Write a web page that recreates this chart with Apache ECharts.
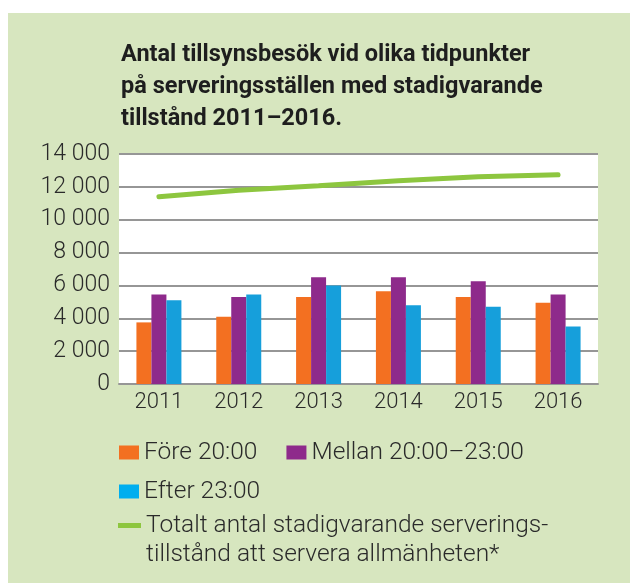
<!DOCTYPE html>
<html>
<head>
<meta charset="utf-8">
<script src="https://cdn.jsdelivr.net/npm/echarts@6/dist/echarts.min.js"></script>
<style>
  html, body { margin: 0; padding: 0; background: #fff; }
  #wrap { position: relative; width: 630px; height: 583px; }
  #panel { position: absolute; left: 8px; top: 13px; right: 0; bottom: 0; background: #d7e6bf; }
  #chart { position: absolute; left: 0; top: 0; width: 630px; height: 583px; }
</style>
</head>
<body>
<div id="wrap"><div id="panel"></div><div id="chart"></div></div>
<script>
// --- data ------------------------------------------------------------------
const years = ["2011", "2012", "2013", "2014", "2015", "2016"];
const fore20 = [3750, 4100, 5300, 5650, 5300, 4950];
const mellan = [5450, 5300, 6500, 6500, 6250, 5450];
const efter23 = [5100, 5450, 6000, 4800, 4700, 3500];
const totalt = [11400, 11800, 12070, 12370, 12620, 12740];

const NAME_FORE = "Före 20:00";
const NAME_MELLAN = "Mellan 20:00–23:00";
const NAME_EFTER = "Efter 23:00";
const NAME_TOTAL = "Totalt antal stadigvarande serverings-\ntillstånd att servera allmänheten*";

// --- look ---------------------------------------------------------------------
const FONT = "Roboto";
const INK = "#2a2a2a";
const GRID = "#969696";
const C = { orange: "#f37021", purple: "#8e2a8b", blue: "#169fdb", blueKey: "#00aeef", green: "#8dc63f" };

const thousands = (v) => String(v).replace(/\B(?=(\d{3})+(?!\d))/g, " ");
const text = { fontFamily: FONT, fontWeight: 300, fontSize: 23, color: INK };
const keyText = { ...text, fontSize: 24.5 };

const chart = echarts.init(document.getElementById("chart"), null, { renderer: "canvas" });

const bar = (name, data, color) => ({
  name, type: "bar", data, barWidth: 15, barGap: "0%",
  itemStyle: { color }, emphasis: { disabled: true },
});

chart.setOption({
  animation: false,
  backgroundColor: "transparent",
  title: {
    text: "Antal tillsynsbesök vid olika tidpunkter\npå serveringsställen med stadigvarande\ntillstånd 2011–2016.",
    left: 121, top: 39, padding: 0,
    textStyle: { fontFamily: FONT, fontWeight: "bold", fontSize: 23.5, lineHeight: 32, color: "#1e1e1e" },
  },
  grid: {
    left: 119, right: 32, top: 154, bottom: 199,
    show: true, backgroundColor: "#fff", borderWidth: 0,
  },
  xAxis: {
    type: "category", data: years,
    axisLine: { lineStyle: { color: GRID, width: 2 } },
    axisTick: { show: false },
    axisLabel: { ...text, fontSize: 22, margin: 7 },
  },
  yAxis: {
    type: "value", min: 0, max: 14000, interval: 2000,
    axisLine: { show: false }, axisTick: { show: false },
    axisLabel: { ...text, margin: 9, formatter: thousands },
    splitLine: { lineStyle: { color: GRID, width: 2 } },
  },
  legend: [
    {
      data: [NAME_FORE, NAME_MELLAN], left: 119, top: 440, padding: 0,
      icon: "rect", itemWidth: 20, itemHeight: 14, itemGap: 29,
      textStyle: keyText, selectedMode: false,
    },
    {
      data: [{ name: NAME_EFTER, itemStyle: { color: C.blueKey } }], left: 119, top: 479, padding: 0,
      icon: "rect", itemWidth: 20, itemHeight: 14,
      textStyle: keyText, selectedMode: false,
    },
    {
      // two-line label: icon box spans both lines, stroke sits on the first one
      data: [NAME_TOTAL], left: 118, top: 511, padding: 0,
      icon: "path://M0,0L0,0ZM0,12L23,12L23,17L0,17ZM0,58L0,58Z",
      itemWidth: 23, itemHeight: 58, itemStyle: { borderWidth: 0 },
      textStyle: { ...keyText, lineHeight: 29 }, selectedMode: false,
    },
  ],
  series: [
    bar(NAME_FORE, fore20, C.orange),
    bar(NAME_MELLAN, mellan, C.purple),
    bar(NAME_EFTER, efter23, C.blue),
    {
      name: NAME_TOTAL, type: "line", data: totalt, symbol: "none",
      lineStyle: { color: C.green, width: 5, cap: "round" },
      itemStyle: { color: C.green }, emphasis: { disabled: true },
    },
  ],
});
</script>
</body>
</html>
